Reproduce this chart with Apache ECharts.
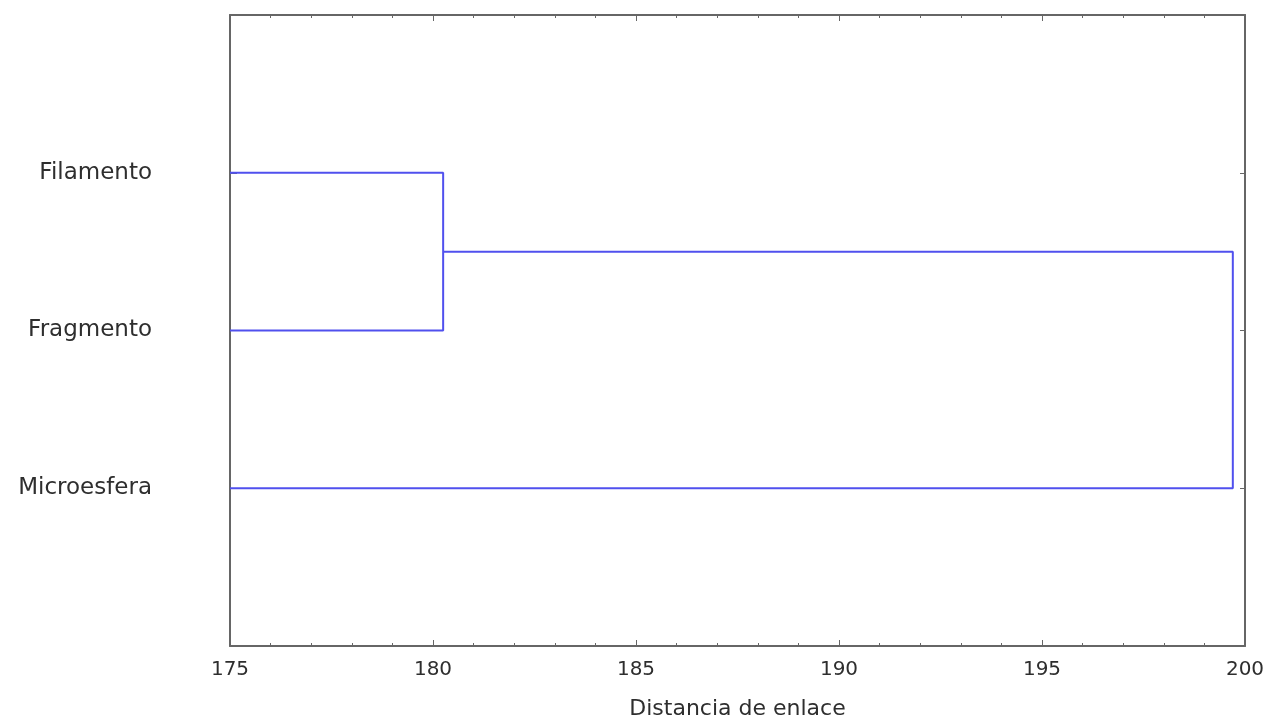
<!DOCTYPE html>
<html><head><meta charset="utf-8">
<script src="https://cdn.jsdelivr.net/npm/echarts@6/dist/echarts.min.js"></script>
<style>html,body{margin:0;padding:0;background:#fff}#c{width:1270px;height:720px}</style>
</head><body><div id="c"></div>
<script>
// Dendrogram data (single linkage tree)
const categories = ['Filamento', 'Fragmento', 'Microesfera'];
const leafPositions = [1, 2, 3];
// merges: [left node, right node, linkage distance]
const merge1 = { a: 0, b: 1, dist: 180.25 };   // Filamento + Fragmento
const merge2 = { b: 2, dist: 199.7 };          // cluster + Microesfera
const xTicks = [175, 180, 185, 190, 195, 200];
const xMin = 175, xMax = 200;

const chart = echarts.init(document.getElementById('c'));
const pa = leafPositions[merge1.a], pb = leafPositions[merge1.b];
const cluster1Pos = (pa + pb) / 2;
const pc = leafPositions[merge2.b];
const seg1 = [[xMin, pa], [merge1.dist, pa], [merge1.dist, pb], [xMin, pb]];
const seg2 = [[merge1.dist, cluster1Pos], [merge2.dist, cluster1Pos], [merge2.dist, pc], [xMin, pc]];

const lineColor = '#5050ee';
const axisColor = '#666';
const textColor = '#2e2e2e';
const yLabel = v => { const i = leafPositions.indexOf(v); return i >= 0 ? categories[i] : ''; };

chart.setOption({
  animation: false,
  grid: { left: 230, right: 25, top: 15, bottom: 74, containLabel: false, outerBoundsMode: 'none' },
  xAxis: [{
    type: 'value', min: xMin, max: xMax, interval: 5, position: 'bottom',
    name: 'Distancia de enlace', nameLocation: 'middle', nameGap: 52,
    nameTextStyle: { fontFamily: 'DejaVu Sans', fontSize: 22, color: textColor },
    axisLine: { show: true, onZero: false, lineStyle: { color: axisColor, width: 2 } },
    axisTick: { show: true, inside: true, length: 6, lineStyle: { color: axisColor } },
    minorTick: { show: true, splitNumber: 5, length: 3, lineStyle: { color: axisColor } },
    axisLabel: { fontFamily: 'DejaVu Sans', fontSize: 20, color: textColor, margin: 14,
      formatter: v => xTicks.includes(v) ? String(v) : '' },
    splitLine: { show: false }
  }, {
    type: 'value', min: xMin, max: xMax, interval: 5, position: 'top',
    axisLine: { show: true, onZero: false, lineStyle: { color: axisColor, width: 2 } },
    axisTick: { show: true, inside: true, length: 6, lineStyle: { color: axisColor } },
    minorTick: { show: true, splitNumber: 5, length: 3, lineStyle: { color: axisColor } },
    axisLabel: { show: false }, splitLine: { show: false }
  }],
  yAxis: [{
    type: 'value', min: 0, max: 4, interval: 1, inverse: true, position: 'left',
    axisLine: { show: true, onZero: false, lineStyle: { color: axisColor, width: 2 } },
    axisTick: { show: true, inside: true, length: 7, lineStyle: { color: axisColor } },
    axisLabel: { fontFamily: 'DejaVu Sans', fontSize: 23, color: textColor, margin: 78,
      align: 'right', formatter: yLabel },
    splitLine: { show: false }
  }, {
    type: 'value', min: 0, max: 4, interval: 1, inverse: true, position: 'right',
    axisLine: { show: true, onZero: false, lineStyle: { color: axisColor, width: 2 } },
    axisTick: { show: true, inside: true, length: 5, lineStyle: { color: axisColor } },
    axisLabel: { show: false }, splitLine: { show: false }
  }],
  series: [seg1, seg2].map(d => ({
    type: 'line', data: d, symbol: 'none', xAxisIndex: 0, yAxisIndex: 0,
    lineStyle: { color: lineColor, width: 2 }
  }))
});
</script></body></html>
